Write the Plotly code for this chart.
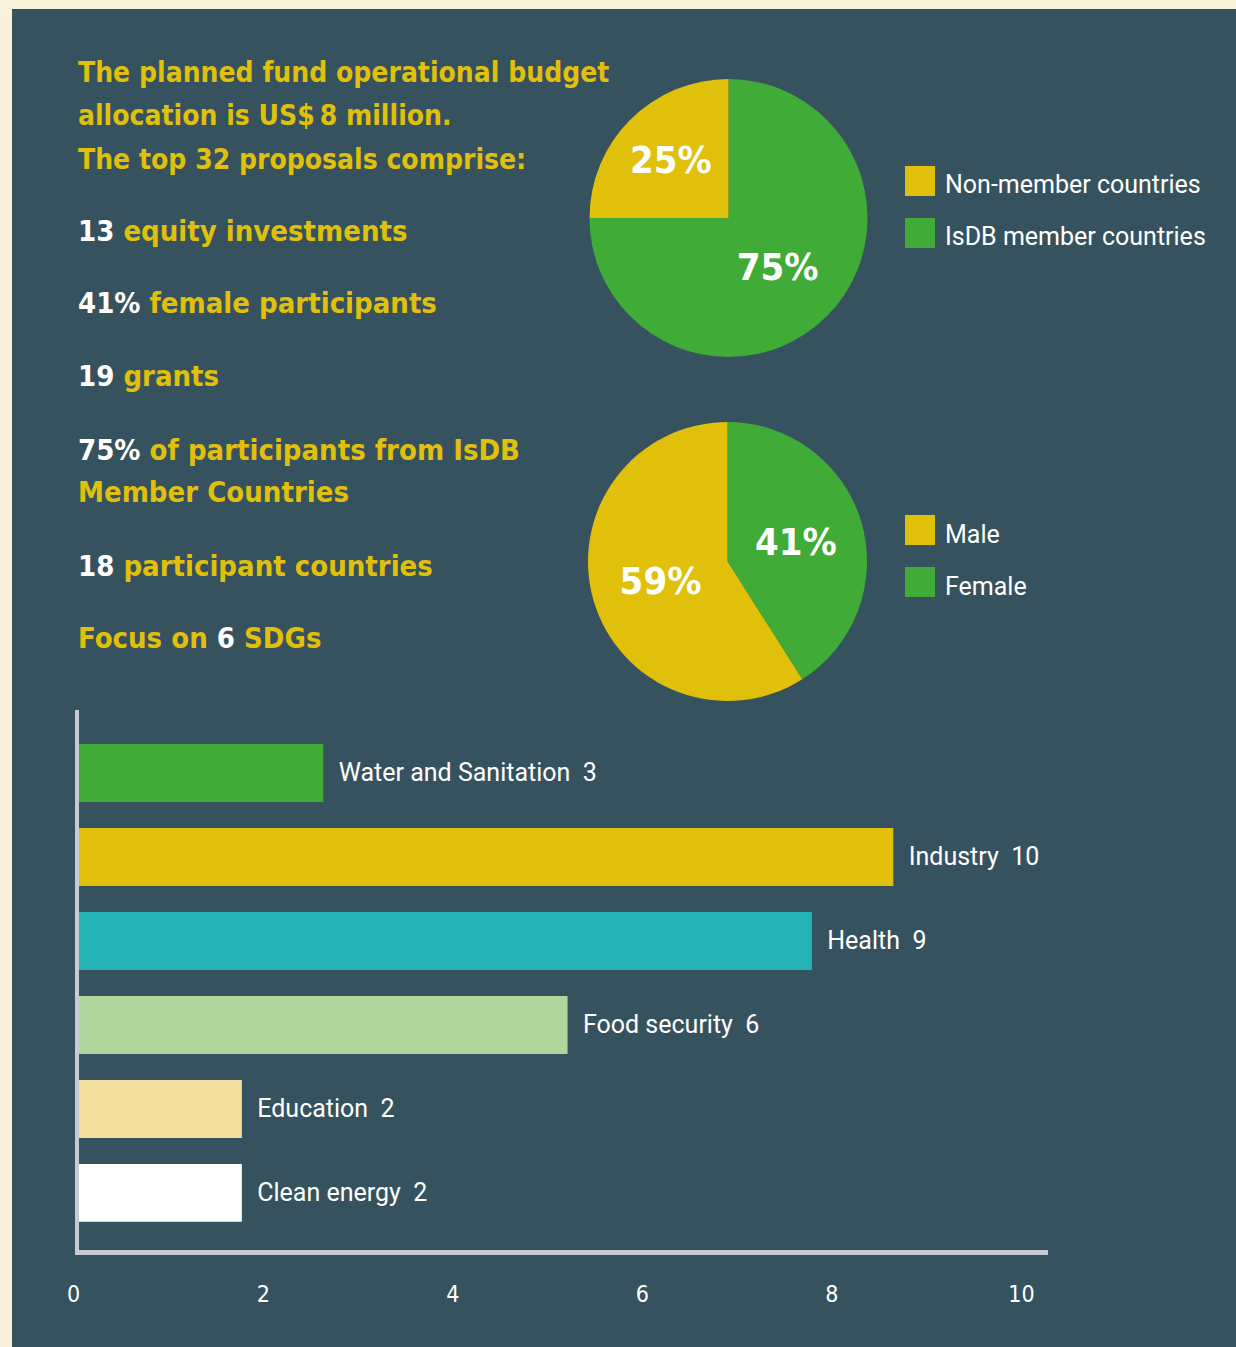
import plotly.graph_objects as go

# ---------------- data ----------------
headline_lines = ["The planned fund operational budget",
                  "allocation is US$\u20098 million.",
                  "The top 32 proposals comprise:"]
stat_numbers = ["13", "41%", "19", "75%", "18", "6"]
stat_texts = ["{n} equity investments",
              "{n} female participants",
              "{n} grants",
              "{n} of participants from IsDB\nMember Countries",
              "{n} participant countries",
              "Focus on {n} SDGs"]

country_labels = ["Non-member countries", "IsDB member countries"]
country_values = [25, 75]
gender_labels = ["Male", "Female"]
gender_values = [59, 41]

sdg_categories = ["Water and Sanitation", "Industry", "Health",
                  "Food security", "Education", "Clean energy"]
sdg_values = [3, 10, 9, 6, 2, 2]
axis_ticks = [0, 2, 4, 6, 8, 10]

# ---------------- style ----------------
W, H = 1236, 1347
CREAM = "#faf0dc"
PANEL = "#37525f"
YELLOW = "#e0c00a"
GREEN = "#41ab37"
TEAL = "#26b3b5"
LIGHTGREEN = "#b1d59d"
PALE = "#f2de9d"
GREY = "#c7cbd1"
COND = "DejaVu Sans Condensed, DejaVu Sans, sans-serif"
SANS = "Roboto, Noto Sans, sans-serif"
bar_colors = [GREEN, YELLOW, TEAL, LIGHTGREEN, PALE, "#ffffff"]
pie_colors = [YELLOW, GREEN]


def px(x):
    return x / W


def py(y):
    return 1 - y / H


fig = go.Figure()

# pies (slices listed in reverse so the second category starts at 12 o'clock
# and runs clockwise, as in the original)
for labels, values, dom in [
        (country_labels, country_values, ([589, 868], [79, 357])),
        (gender_labels, gender_values, ([588, 867], [422, 701]))]:
    fig.add_trace(go.Pie(
        labels=labels[::-1], values=values[::-1], sort=False,
        direction="clockwise", rotation=0,
        marker=dict(colors=pie_colors[::-1], line=dict(width=0)),
        texttemplate="%{value}%", textposition="inside",
        insidetextorientation="horizontal",
        textfont=dict(family=COND, size=38, color="white", weight="bold"),
        domain=dict(x=[px(dom[0][0]), px(dom[0][1])],
                    y=[py(dom[1][1]), py(dom[1][0])]),
        showlegend=False, hoverinfo="label+value"))

# bars
fig.add_trace(go.Bar(
    orientation="h", x=sdg_values, y=sdg_categories,
    marker=dict(color=bar_colors, line=dict(width=0)), width=0.69,
    text=[f"\u00a0\u00a0{c}\u00a0\u00a0{v}" for c, v in zip(sdg_categories, sdg_values)],
    textposition="outside", cliponaxis=False, constraintext="none",
    textfont=dict(family=SANS, size=25, color="white"),
    showlegend=False, hoverinfo="x+y"))

# invisible helper on the tick-label axis so that its subplot is drawn
fig.add_trace(go.Scatter(
    x=axis_ticks, y=[sdg_categories[-1]] * len(axis_ticks), xaxis="x2", yaxis="y",
    mode="markers", marker=dict(opacity=0, size=1), showlegend=False,
    hoverinfo="skip"))

shapes = [dict(type="rect", xref="paper", yref="paper", layer="below",
               x0=px(12), x1=1.0, y0=0.0, y1=py(9),
               fillcolor=PANEL, line=dict(width=0))]
annotations = []


# legends built from the label arrays
def add_legend(labels, colors, top):
    for i, (lab, col) in enumerate(zip(labels, colors)):
        y0 = top + i * 52
        shapes.append(dict(type="rect", xref="paper", yref="paper",
                           x0=px(905), x1=px(935), y0=py(y0 + 30), y1=py(y0),
                           fillcolor=col, line=dict(width=0)))
        annotations.append(dict(xref="paper", yref="paper", x=px(943), y=py(y0 + 19),
                                xanchor="left", yanchor="middle", showarrow=False,
                                text=lab, font=dict(family=SANS, size=25, color="white")))


add_legend(country_labels, pie_colors, 166)
add_legend(gender_labels, pie_colors, 515)

# headline text
for i, line in enumerate(headline_lines):
    annotations.append(dict(xref="paper", yref="paper", x=px(76), y=py(73 + i * 43),
                            xanchor="left", yanchor="middle", showarrow=False,
                            text=line,
                            font=dict(family=COND, size=28, color=YELLOW, weight="bold")))

stat_centers = [231, 303, 376, 450, 566, 638]
for n, t, cy in zip(stat_numbers, stat_texts, stat_centers):
    for j, ln in enumerate(t.split("\n")):
        rich = ln.replace("{n}", f"<span style='color:white'>{n}</span>")
        annotations.append(dict(xref="paper", yref="paper", x=px(76), y=py(cy + j * 42),
                                xanchor="left", yanchor="middle", showarrow=False,
                                text=rich,
                                font=dict(family=COND, size=29, color=YELLOW, weight="bold")))

fig.update_layout(
    width=W, height=H, margin=dict(l=0, r=0, t=0, b=0),
    paper_bgcolor=CREAM, plot_bgcolor="rgba(0,0,0,0)",
    shapes=shapes, annotations=annotations,
    xaxis=dict(domain=[px(79), px(1048)], range=[0, 11.9], showgrid=False,
               zeroline=False, showticklabels=False, showline=True,
               linecolor=GREY, linewidth=5, fixedrange=True),
    yaxis=dict(domain=[py(1250), py(710)], range=[5.68, -0.75], showgrid=False,
               zeroline=False, showticklabels=False, showline=True,
               linecolor=GREY, linewidth=4, fixedrange=True),
    xaxis2=dict(visible=True, domain=[px(50), px(1048)], anchor="y",
                range=[-0.25, 10.28],
                tickmode="array", tickvals=axis_ticks, ticks="", showgrid=False,
                zeroline=False, showline=False, showticklabels=True,
                ticklabelstandoff=28,
                tickfont=dict(family=COND, size=23, color="white"), fixedrange=True),
)

fig.write_html("out.html", config={"displayModeBar": False},
               post_script="document.body.style.margin='0';"
                           "document.documentElement.style.margin='0';")
